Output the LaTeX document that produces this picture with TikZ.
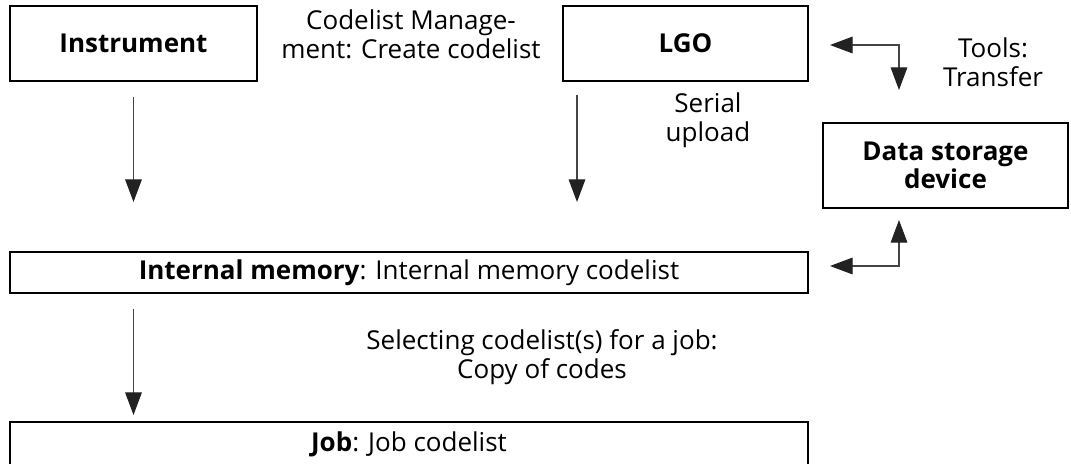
\documentclass[tikz,border=0pt]{standalone}
\usepackage{fontspec}
\setmainfont{Open Sans}
\usetikzlibrary{arrows.meta}
\definecolor{linegray}{HTML}{444444}
\definecolor{tipgray}{HTML}{222222}
\newcommand{\txtsize}{\fontsize{19.5}{21.5}\selectfont}
\tikzset{
  box/.style={draw=black, line width=0.8pt, inner sep=0pt, align=center, font=\txtsize\bfseries},
  lbl/.style={inner sep=0pt, align=center, font=\txtsize},
  arr/.style={draw=linegray, line width=0.8pt, -{Triangle[length=17pt,width=12.5pt,fill=tipgray,color=tipgray]}},
  darr/.style={draw=linegray, line width=0.8pt, {Triangle[length=17pt,width=12.5pt,fill=tipgray,color=tipgray]}-{Triangle[length=17pt,width=12.5pt,fill=tipgray,color=tipgray]}},
}
\begin{document}
\begin{tikzpicture}[x=0.75pt,y=-0.75pt]
\useasboundingbox (0,0) rectangle (1071,464);
% boxes
\node[box, minimum width=247*0.75pt, minimum height=75*0.75pt] (instr) at (133.5,43.5) {Instrument};
\node[box, minimum width=245*0.75pt, minimum height=75*0.75pt] (lgo) at (685.5,43.5) {LGO};
\node[box, minimum width=245*0.75pt, minimum height=85*0.75pt] (ds) at (945.5,165.5) {Data storage\\device};
\node[box, minimum width=798*0.75pt, minimum height=41*0.75pt] (imem) at (409,272.5) {Internal memory\textmd{: Internal memory codelist}};
\node[box, minimum width=798*0.75pt, minimum height=44*0.75pt] (job) at (409,444) {Job\textmd{: Job codelist}};
% labels
\node[lbl] (cm) at (411,34) {Codelist Manage-\\ment: Create codelist};
\node[lbl] (serial) at (708,120) {Serial\\upload};
\node[lbl] (tools) at (993,62) {Tools:\\Transfer};
\node[lbl] (sel) at (542,357) {Selecting codelist(s) for a job:\\Copy of codes};
% connector end points
\coordinate (a1s) at (133.5,97);
\coordinate (a1e) at (133.5,202);
\coordinate (a2s) at (577,95);
\coordinate (a2e) at (577,202);
\coordinate (t1) at (830,45);
\coordinate (t2) at (899,90);
\coordinate (b1) at (899,220);
\coordinate (b2) at (830,266);
\coordinate (a3s) at (133.5,309);
\coordinate (a3e) at (133.5,415);
% connectors
\draw[arr] (a1s) -- (a1e);
\draw[arr] (a2s) -- (a2e);
\draw[darr] (t1) -| (t2);
\draw[darr] (b1) |- (b2);
\draw[arr] (a3s) -- (a3e);
\end{tikzpicture}
\end{document}
